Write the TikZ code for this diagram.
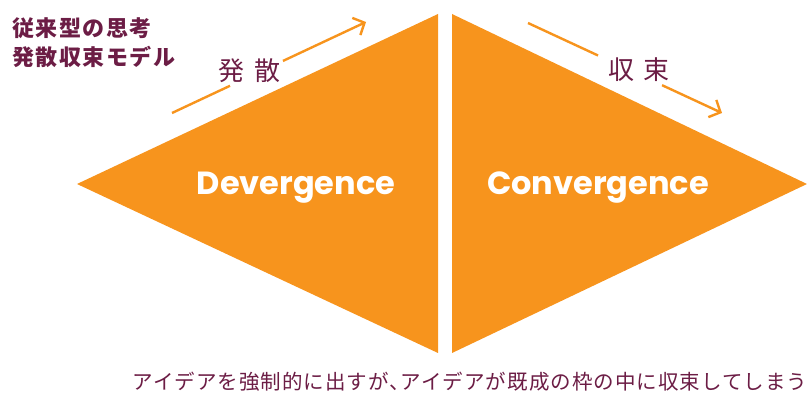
\documentclass[tikz,border=0pt]{standalone}
\usepackage{fontspec}
\usetikzlibrary{arrows.meta,calc}
\newfontfamily\jpfont{Noto Sans CJK JP}
\newfontfamily\jptitle[LetterSpace=7]{Noto Sans CJK JP}
\newfontfamily\jpbottom[LetterSpace=5]{Noto Sans CJK JP}
\newfontfamily\latfont{Poppins}
\definecolor{orng}{HTML}{F7941D}
\definecolor{purp}{HTML}{6C1D45}
\tikzset{
  tri/.style={fill=orng,draw=none},
  flow/.style={draw=orng,line width=2.4pt},
  flowarrow/.style={flow,-{Straight Barb[length=9pt,width=19pt]}},
  steplabel/.style={text=purp,inner sep=0pt,font=\jpfont\fontsize{26}{26}\selectfont},
  biglabel/.style={text=white,inner sep=0pt,anchor=base,font=\latfont\bfseries\fontsize{32}{32}\selectfont},
  titletext/.style={text=purp,inner sep=0pt,anchor=base west,font=\jptitle\bfseries\fontsize{22}{22}\selectfont},
}
\begin{document}
\begin{tikzpicture}[x=1pt,y=-1pt]
\useasboundingbox (0,0) rectangle (807,398);
% triangles
\path[tri] (77,184) -- (438,14) -- (438,353) -- cycle;
\path[tri] (452,14) -- (807,184) -- (452,353) -- cycle;
% labels
\node[biglabel] (dv) at (296,195) {Devergence};
\node[biglabel] (cv) at (598,195) {Convergence};
% titles
\node[titletext] (t1) at (12,37) {従来型の思考};
\node[titletext] (t2) at (12,66) {発散収束モデル};
% arrows
\coordinate (a1) at (172,113);
\coordinate (a2) at (366,22);
\draw[flow] (a1) -- ($(a1)!0.299!(a2)$);
\draw[flowarrow] ($(a1)!0.572!(a2)$) -- (a2);
\node[steplabel] (hs) at (249.5,70.5) {発\hspace{10pt}散};
\coordinate (b1) at (528,23);
\coordinate (b2) at (722,113);
\draw[flow] (b1) -- ($(b1)!0.361!(b2)$);
\draw[flowarrow] ($(b1)!0.691!(b2)$) -- (b2);
\node[steplabel] (sy) at (639,70) {収\hspace{10pt}束};
% bottom
\node[text=purp,inner sep=0pt,anchor=base,font=\jpbottom\fontsize{20.5}{20.5}\selectfont] (bt) at (470,390) {アイデアを強制的に出すが、\hspace{-0.45em}アイデアが既成の枠の中に収束してしまう};
\end{tikzpicture}
\end{document}
